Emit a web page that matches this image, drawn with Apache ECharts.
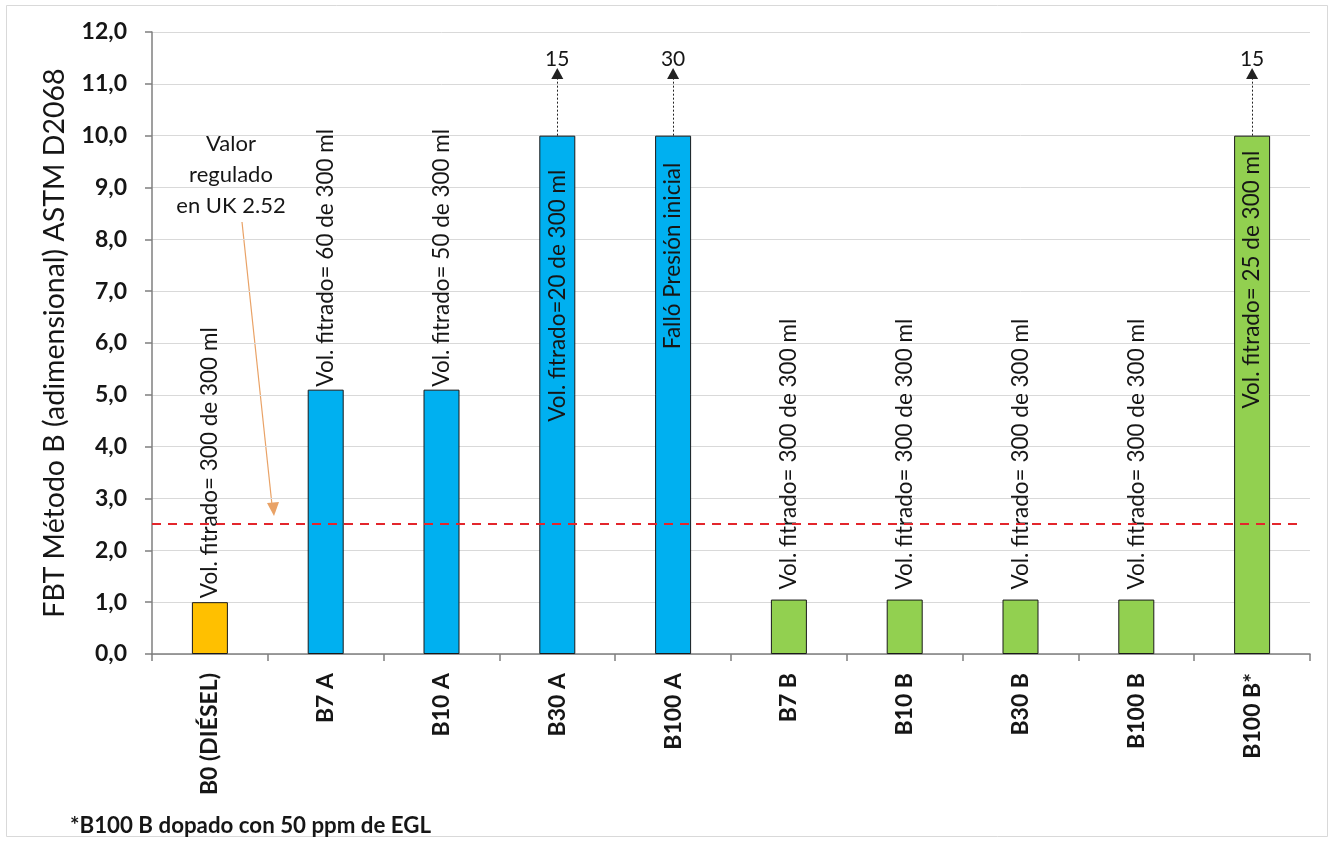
<!DOCTYPE html>
<html>
<head>
<meta charset="utf-8">
<script src="https://cdn.jsdelivr.net/npm/echarts@6/dist/echarts.min.js"></script>
<style>
  html, body { margin: 0; padding: 0; background: #fff; }
  #chart { width: 1333px; height: 841px; }
</style>
</head>
<body>
<div id="chart"></div>
<script>
// Muestras de combustible (eje de categorías)
const categories = ['B0 (DIÉSEL)', 'B7 A', 'B10 A', 'B30 A', 'B100 A', 'B7 B', 'B10 B', 'B30 B', 'B100 B', 'B100 B*'];
// Valor FBT dibujado (las barras que superan la escala se cortan en 10,0)
const fbtValues = [1.0, 5.1, 5.1, 10.0, 10.0, 1.05, 1.05, 1.05, 1.05, 10.0];
// Valor real de las muestras que se salen de la escala
const offScaleValues = [null, null, null, 15, 30, null, null, null, null, 15];
// Texto de cada barra
const barNotes = [
  'Vol. fitrado= 300 de 300 ml',
  'Vol. fitrado= 60 de 300 ml',
  'Vol. fitrado= 50 de 300 ml',
  'Vol. fitrado=20 de 300 ml',
  'Falló Presión inicial',
  'Vol. fitrado= 300 de 300 ml',
  'Vol. fitrado= 300 de 300 ml',
  'Vol. fitrado= 300 de 300 ml',
  'Vol. fitrado= 300 de 300 ml',
  'Vol. fitrado= 25 de 300 ml'
];
// Grupo de cada muestra: diésel, serie A, serie B
const groups = ['diesel', 'A', 'A', 'A', 'A', 'B', 'B', 'B', 'B', 'B'];
// Límite regulado en UK
const ukLimit = 2.52;
// Escala del eje Y
const yMin = 0, yMax = 12, yStep = 1;

// Estilos
const FONT = 'Lato, "Open Sans", sans-serif';
const TXT = '#161616';
const groupColors = { diesel: '#FFC000', A: '#00B0F0', B: '#92D050' };
// Separación (px) entre el texto y el extremo de cada barra
const noteGap = [4, 3, 3, 34, 27, 10, 10, 10, 10, 15];
const arrowTip = 11.2;   // altura (en unidades del eje) donde se dibuja la punta de flecha

const barData = fbtValues.map((v, i) => {
  const inside = v >= 10;
  return {
    value: v,
    itemStyle: { color: groupColors[groups[i]] },
    label: inside
      ? { show: true, formatter: barNotes[i], position: 'insideTop', rotate: 90,
          align: 'right', verticalAlign: 'middle', distance: noteGap[i] }
      : { show: true, formatter: barNotes[i], position: 'top', rotate: 90,
          align: 'left', verticalAlign: 'middle', distance: noteGap[i] }
  };
});

// Línea del límite regulado
const markLines = [[
  { x: 152, yAxis: ukLimit, symbol: 'none',
    lineStyle: { color: '#E3262C', type: [9, 7], width: 2 }, label: { show: false } },
  { x: 1300, yAxis: ukLimit, symbol: 'none' }
]];
// Flechas punteadas que indican el valor real fuera de escala
offScaleValues.forEach((real, i) => {
  if (real == null) return;
  markLines.push([
    { coord: [categories[i], fbtValues[i]], symbol: 'none', value: real,
      lineStyle: { color: '#222', type: [2, 2], width: 1 },
      label: { show: true, position: 'end', distance: 4, fontFamily: FONT, fontSize: 21,
               color: TXT, formatter: String(real) } },
    { coord: [categories[i], arrowTip], symbol: 'triangle', symbolSize: [12, 11] }
  ]);
});

const chart = echarts.init(document.getElementById('chart'), null, { renderer: 'canvas' });
chart.setOption({
  animation: false,
  backgroundColor: '#ffffff',
  textStyle: { fontFamily: FONT },
  grid: { left: 152, right: 23, top: 32, bottom: 187, containLabel: false },
  xAxis: {
    type: 'category',
    data: categories,
    boundaryGap: true,
    axisLine: { lineStyle: { color: '#7f7f7f', width: 1.5 } },
    axisTick: { show: true, alignWithLabel: false, length: 7, lineStyle: { color: '#7f7f7f', width: 1.5 } },
    axisLabel: {
      rotate: 90, interval: 0, margin: 19,
      fontFamily: FONT, fontSize: 23, fontWeight: 'bold', color: TXT
    },
    splitLine: { show: false }
  },
  yAxis: {
    type: 'value',
    min: yMin, max: yMax, interval: yStep,
    name: 'FBT Método B (adimensional) ASTM D2068',
    nameLocation: 'middle',
    nameGap: 83,
    nameTextStyle: { fontFamily: FONT, fontSize: 28.5, color: TXT },
    axisLine: { show: true, lineStyle: { color: '#7f7f7f', width: 1.5 } },
    axisTick: { show: true, length: 7, lineStyle: { color: '#7f7f7f', width: 1.5 } },
    axisLabel: {
      margin: 25, fontFamily: FONT, fontSize: 23, fontWeight: 'bold', color: TXT,
      formatter: v => v.toFixed(1).replace('.', ',')
    },
    splitLine: { show: true, lineStyle: { color: '#d9d9d9', width: 1 } }
  },
  series: [{
    type: 'bar',
    data: barData,
    barWidth: 36,
    itemStyle: { borderColor: '#1a1a1a', borderWidth: 1 },
    label: { fontFamily: FONT, fontSize: 22.5, color: TXT },
    markLine: {
      silent: true,
      symbol: 'none',
      data: markLines
    }
  }],
  graphic: [
    {
      type: 'rect', silent: true, z: -10,
      shape: { x: 6.5, y: 5.5, width: 1321, height: 831 },
      style: { fill: 'none', stroke: '#d9d9d9', lineWidth: 1 }
    },
    {
      type: 'text', x: 231, y: 128,
      style: {
        text: 'Valor\nregulado\nen UK 2.52',
        fontFamily: FONT, fontSize: 22, fill: TXT,
        align: 'center', verticalAlign: 'top', lineHeight: 31
      }
    },
    {
      type: 'line', silent: true,
      shape: { x1: 242, y1: 222, x2: 272, y2: 505 },
      style: { stroke: '#E9A266', lineWidth: 1.2 }
    },
    {
      type: 'polygon', silent: true,
      shape: { points: [[267, 503], [279, 502], [274, 516]] },
      style: { fill: '#E9A266' }
    },
    {
      type: 'text', x: 70, y: 826,
      style: {
        text: '*B100 B dopado con 50 ppm de EGL',
        fontFamily: FONT, fontSize: 22.3, fontWeight: 'bold', fill: TXT,
        verticalAlign: 'middle'
      }
    }
  ]
});
</script>
</body>
</html>
